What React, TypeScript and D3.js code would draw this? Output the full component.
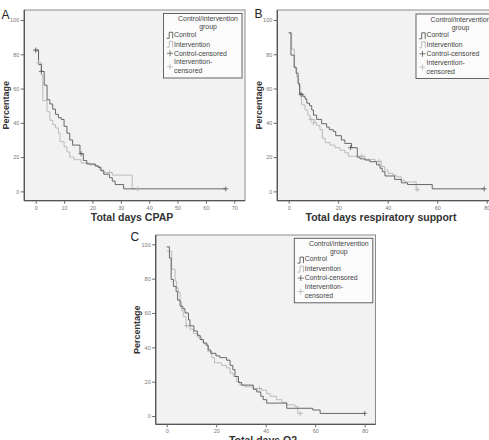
import { useEffect, useRef } from "react";
import * as d3 from "d3";

const W = 489;
const H = 440;
const FONT = "'Liberation Sans', Arial, Helvetica, sans-serif";
const CONTROL_COLOR = "#595959";
const INTERVENTION_COLOR = "#b5b5b5";

type Pt = [number, number];

// Panel A: total days CPAP (day, % still on support)
const cpapControl: Pt[] = [
  [0, 82.5], [1, 74], [2, 70], [3, 62], [4, 53.5], [5, 51], [6, 48], [7, 45], [8, 43], [9, 42],
  [10, 38], [11, 34], [12, 30], [13, 27], [15.6, 22], [16.8, 18], [18, 16], [21, 15], [22, 14],
  [23, 12], [24, 10], [26, 8], [27, 6], [28, 4], [31, 1.5], [67, 1.5],
];
const cpapControlCensored: Pt[] = [[0, 82.5], [2, 70], [16, 22], [67, 1.5]];
const cpapIntervention: Pt[] = [
  [0, 82], [1, 75], [2, 68], [2.5, 53], [4, 46.5], [5, 41.5], [6, 39], [7, 37], [8, 34], [8.6, 29],
  [10, 26], [11, 23], [12, 20], [13.5, 18.5], [16, 16.5], [19, 15.5], [21, 14.5], [22.6, 12.5],
  [24, 11], [27, 9.5], [34, 1.5], [36, 1.5],
];
const cpapInterventionCensored: Pt[] = [[0, 82], [1, 75], [26, 11], [36, 1.5]];

// Panel B: total days respiratory support
const respControl: Pt[] = [
  [0, 92.5], [0.9, 79.5], [2.2, 72.5], [3, 69], [3.8, 63], [4.4, 57], [5.7, 55.5], [6.6, 54],
  [7.3, 51.5], [8.4, 50], [9.3, 47.5], [10, 44.5], [11.3, 42], [13.3, 39.5], [15.3, 37.5],
  [16.4, 36], [18, 35], [19, 32.5], [21.3, 30], [22.7, 28], [25.4, 25.5], [27.7, 20], [28.8, 19],
  [30.8, 18.3], [32.8, 17.3], [35.5, 15.5], [36.9, 13.5], [37.8, 11.5], [38.9, 9], [42.8, 7],
  [45.5, 5], [48, 4], [58, 1.5], [79, 1.5],
];
const respControlCensored: Pt[] = [[5, 56.5], [25, 25.5], [79, 1.5]];
const respIntervention: Pt[] = [
  [0, 92.5], [1.2, 83], [2.3, 72], [3.2, 67], [3.9, 62], [4.6, 56], [5.2, 50.5], [6.6, 47.5],
  [7.7, 44.5], [8.6, 42], [10.6, 40], [11.3, 38.5], [12.6, 36], [13.6, 31], [14.7, 28.5],
  [16.7, 27], [18.7, 25.5], [20.7, 24], [22.7, 22.5], [24.1, 20.5], [30.8, 18.7], [34.9, 17.5],
  [37.4, 14.5], [38.8, 12.5], [40.1, 10.5], [42.1, 9.5], [43.5, 8.5], [45.5, 6.5], [46.8, 5.5],
  [51.5, 1], [52, 1],
];
const respInterventionCensored: Pt[] = [[9, 42], [10, 40], [29.5, 20.5], [36.5, 17.5], [52, 1]];

// Panel C: total days O2
const o2Control: Pt[] = [
  [0, 98.5], [1.1, 92], [1.8, 79.5], [2.7, 75.5], [3.8, 72.5], [4.4, 67.5], [5.4, 64], [6.5, 62.5],
  [7.4, 60], [8.8, 56], [9.4, 52.5], [11, 49.5], [12.4, 47], [13.5, 44.5], [14.8, 42.5],
  [16.2, 41], [16.8, 38.5], [17.8, 36.5], [19.9, 35], [21.5, 34], [24.2, 32.5], [25.6, 29.5],
  [26.7, 27], [27.6, 23], [29, 19.5], [30.3, 18], [35, 15.5], [36.4, 14], [38, 11.5], [39, 9.5],
  [40.4, 7.5], [48.5, 4.5], [59, 3.5], [62, 1.5], [80, 1.5],
];
const o2ControlCensored: Pt[] = [[80, 1.5]];
const o2Intervention: Pt[] = [
  [0, 96], [2, 85.5], [3.4, 78.5], [4, 74.5], [4.7, 72], [5.4, 66.5], [6, 61.5], [6.7, 58],
  [7.8, 52.5], [9.4, 50.5], [10.8, 48], [12.4, 46], [14.1, 44.5], [14.8, 42.5], [15.5, 41.5],
  [16.6, 37.5], [18.2, 34], [19.3, 31], [22.2, 29.5], [24.2, 28], [25.6, 25], [26.9, 23],
  [28.3, 20], [29.6, 18], [31.6, 17], [35, 16], [38.4, 15], [40.4, 13], [41.8, 11.5], [44.4, 9.5],
  [46.5, 8], [48.5, 6.5], [51.9, 5.5], [53, 1.5], [54, 1.5],
];
const o2InterventionCensored: Pt[] = [[8, 52.5], [37.5, 16], [54, 1.5]];

const yTicks = [0, 20, 40, 60, 80, 100];
const legendTitle = ["Control/intervention", "group"];
const legendItems = ["Control", "Intervention", "Control-censored"];
const legendLast = ["Intervention-", "censored"];

const panels = [
  {
    letter: "A", title: "Total days CPAP", xTicks: [0, 10, 20, 30, 40, 50, 60, 70], xMax: 70,
    control: cpapControl, controlCens: cpapControlCensored,
    intervention: cpapIntervention, interventionCens: cpapInterventionCensored,
    left: 24.3, right: 245, top: 10, bottom: 200.7, px0: 35.7, pxMax: 234.3, py0: 191.4, py100: 20,
    letterX: 1.5, letterY: 18.5, titleX: 132, titleY: 220.5, legX: 163.5, legY: 13.5,
  },
  {
    letter: "B", title: "Total days respiratory support", xTicks: [0, 20, 40, 60, 80], xMax: 80,
    control: respControl, controlCens: respControlCensored,
    intervention: respIntervention, interventionCens: respInterventionCensored,
    left: 277.3, right: 498, top: 10, bottom: 200.7, px0: 288.7, pxMax: 486.7, py0: 191.4, py100: 20,
    letterX: 254.5, letterY: 17.8, titleX: 381, titleY: 220.5, legX: 416, legY: 14,
  },
  {
    letter: "C", title: "Total days O2", xTicks: [0, 20, 40, 60, 80], xMax: 80,
    control: o2Control, controlCens: o2ControlCensored,
    intervention: o2Intervention, interventionCens: o2InterventionCensored,
    left: 155.7, right: 375.5, top: 235, bottom: 424.3, px0: 166.7, pxMax: 364.7, py0: 416, py100: 244.3,
    letterX: 130.5, letterY: 241, titleX: 263, titleY: 444, legX: 294.3, legY: 238.3,
  },
];

type PanelCfg = (typeof panels)[number];

const plus = (cx: number, cy: number, r = 2.5) =>
  `M${cx - r},${cy}h${2 * r}M${cx},${cy - r}v${2 * r}`;

function Panel({ p }: { p: PanelCfg }) {
  const xRef = useRef<SVGGElement>(null);
  const yRef = useRef<SVGGElement>(null);

  const x = d3.scaleLinear().domain([0, p.xMax]).range([p.px0, p.pxMax]);
  const y = d3.scaleLinear().domain([0, 100]).range([p.py0, p.py100]);

  const line = d3
    .line<Pt>()
    .x((d) => x(d[0]))
    .y((d) => y(d[1]))
    .curve(d3.curveStepAfter);

  useEffect(() => {
    const gx = d3
      .select(xRef.current)
      .call(d3.axisBottom(x).tickValues(p.xTicks).tickSize(3).tickPadding(2));
    gx.select(".domain").remove();
    gx.attr("font-family", FONT).attr("font-size", 5.5);
    gx.selectAll("line").attr("stroke", "#666");
    gx.selectAll("text").attr("fill", "#777");

    const gy = d3
      .select(yRef.current)
      .call(d3.axisLeft(y).tickValues(yTicks).tickSize(3.5).tickPadding(1.5));
    gy.select(".domain").remove();
    gy.attr("font-family", FONT).attr("font-size", 5.5);
    gy.selectAll("line").attr("stroke", "#666");
    gy.selectAll("text").attr("fill", "#777");
  }, [p]);

  const lx = p.legX;
  const ly = p.legY;
  const icon = (top: number) =>
    `M${lx + 3.2},${top + 6}H${lx + 5.7}V${top}H${lx + 9.2}V${top + 6}`;

  return (
    <g>
      <rect
        x={p.left}
        y={p.top}
        width={p.right - p.left}
        height={p.bottom - p.top}
        fill="#f2f2f2"
        stroke="#8c8c8c"
        strokeWidth={1}
      />
      <line x1={p.left} x2={p.left} y1={p.top} y2={p.bottom} stroke="#555" strokeWidth={1.3} />
      <line x1={p.left} x2={p.right} y1={p.bottom} y2={p.bottom} stroke="#555" strokeWidth={1.3} />

      <g ref={xRef} transform={`translate(0,${p.bottom})`} />
      <g ref={yRef} transform={`translate(${p.left},0)`} />

      <path d={line(p.intervention) ?? ""} fill="none" stroke={INTERVENTION_COLOR} strokeWidth={0.9} />
      <path d={line(p.control) ?? ""} fill="none" stroke={CONTROL_COLOR} strokeWidth={0.9} />
      {p.interventionCens.map((d, i) => (
        <path key={`ic${i}`} d={plus(x(d[0]), y(d[1]))} stroke={INTERVENTION_COLOR} strokeWidth={0.8} />
      ))}
      {p.controlCens.map((d, i) => (
        <path key={`cc${i}`} d={plus(x(d[0]), y(d[1]))} stroke={CONTROL_COLOR} strokeWidth={0.8} />
      ))}

      <text x={p.letterX} y={p.letterY} fontFamily={FONT} fontSize={12} fill="#222">
        {p.letter}
      </text>
      <text
        transform={`translate(${p.left - 17.8},${(p.top + p.bottom) / 2}) rotate(-90)`}
        textAnchor="middle"
        dominantBaseline="middle"
        fontFamily={FONT}
        fontSize={9}
        fontWeight="bold"
        fill="#333"
      >
        Percentage
      </text>
      <text
        x={p.titleX}
        y={p.titleY}
        textAnchor="middle"
        fontFamily={FONT}
        fontSize={10.5}
        fontWeight="bold"
        fill="#333"
      >
        {p.title}
      </text>

      {/* legend */}
      <rect x={lx} y={ly} width={78.5} height={64.5} fill="#fbfbfb" stroke="#555" strokeWidth={0.9} />
      <g fontFamily={FONT} fontSize={6.9} fill="#444">
        <text x={lx + 44.5} y={ly + 7.8} textAnchor="middle">{legendTitle[0]}</text>
        <text x={lx + 44.5} y={ly + 15.5} textAnchor="middle">{legendTitle[1]}</text>
        <text x={lx + 10.5} y={ly + 23.1}>{legendItems[0]}</text>
        <text x={lx + 10.5} y={ly + 33.1}>{legendItems[1]}</text>
        <text x={lx + 10.5} y={ly + 42.1}>{legendItems[2]}</text>
        <text x={lx + 10.5} y={ly + 50.8}>{legendLast[0]}</text>
        <text x={lx + 10.5} y={ly + 59.8}>{legendLast[1]}</text>
      </g>
      <path d={icon(ly + 18.8)} fill="none" stroke={CONTROL_COLOR} strokeWidth={0.9} />
      <path d={icon(ly + 27.8)} fill="none" stroke={INTERVENTION_COLOR} strokeWidth={0.9} />
      <path d={plus(lx + 6.5, ly + 39.8, 3)} stroke={CONTROL_COLOR} strokeWidth={0.8} />
      <path d={plus(lx + 6.5, ly + 53.2, 3)} stroke={INTERVENTION_COLOR} strokeWidth={0.8} />
    </g>
  );
}

export default function App() {
  return (
    <svg
      width={W}
      height={H}
      viewBox={`0 0 ${W} ${H}`}
      style={{ position: "absolute", left: 0, top: 0, background: "#fff" }}
    >
      <rect width={W} height={H} fill="#fff" />
      {panels.map((p) => (
        <Panel key={p.letter} p={p} />
      ))}
    </svg>
  );
}
